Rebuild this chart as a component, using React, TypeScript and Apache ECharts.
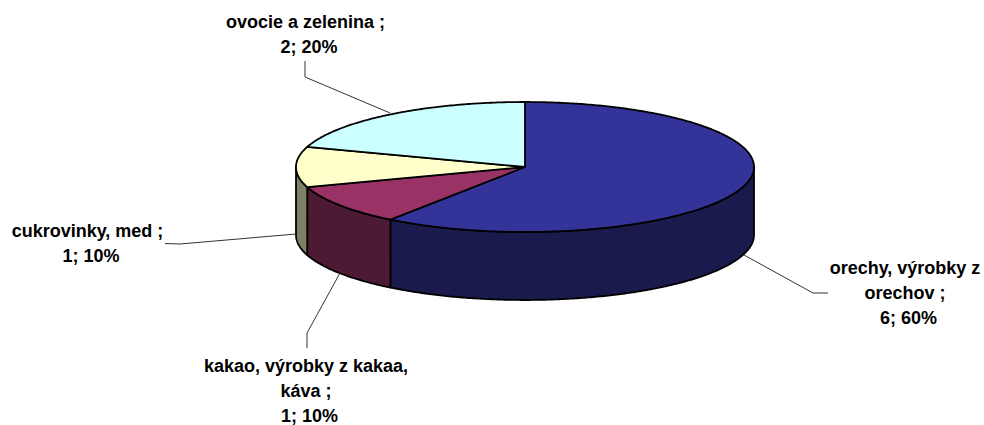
import React, { useEffect, useRef } from "react";
import * as echarts from "echarts";

const categories = [
  "orechy, výrobky z\norechov",
  "kakao, výrobky z kakaa,\nkáva",
  "cukrovinky, med",
  "ovocie a zelenina",
];
const values = [6, 1, 1, 2];
const topColors = ["#333399", "#993366", "#FFFFCC", "#CCFFFF"];
const sideColors = ["#1A1A4D", "#4D1A33", "#808066", "#668080"];

const CX = 525;
const CY = 167;
const RX = 229;
const RY = 65;
const DEPTH = 68;
const LINE_H = 25;
const VALUE_SHIFT = 3.5;
const TOTAL = values.reduce((a, b) => a + b, 0);
const starts = values.map((_, i) =>
  values.slice(0, i).reduce((a, b) => a + b, 0) / TOTAL * Math.PI * 2
);
const ends = values.map((v, i) => starts[i] + (v / TOTAL) * Math.PI * 2);

const labelPos = [
  { x: 905, y: 293 },
  { x: 306, y: 391 },
  { x: 87.5, y: 243.5 },
  { x: 305.5, y: 34.5 },
];
const leaders = [
  [[744, 255], [813, 293], [828, 293]],
  [[340, 273], [307, 333], [307, 348]],
  [[296, 234], [180, 244], [165, 243.5]],
  [[390, 113], [305, 77], [305, 61]],
];

const arc = (a: number, b: number, dy: number) => {
  const n = Math.max(2, Math.ceil((b - a) / 0.01));
  const pts: number[][] = [];
  for (let i = 0; i <= n; i++) {
    const t = a + ((b - a) * i) / n;
    pts.push([CX + RX * Math.sin(t), CY - RY * Math.cos(t) + dy]);
  }
  return pts;
};

const renderSide = (_: any, api: any) => {
  const i = api.value(0);
  const a = Math.max(starts[i], Math.PI / 2);
  const b = Math.min(ends[i], (Math.PI * 3) / 2);
  if (b <= a) return { type: "group", children: [] };
  return {
    type: "polygon",
    shape: { points: [...arc(a, b, 0), ...arc(a, b, DEPTH).reverse()] },
    style: { fill: sideColors[i], stroke: "#000", lineWidth: 1.8, lineJoin: "round" },
  };
};

const renderTop = (_: any, api: any) => {
  const i = api.value(0);
  return {
    type: "polygon",
    shape: { points: [[CX, CY], ...arc(starts[i], ends[i], 0)] },
    style: { fill: topColors[i], stroke: "#000", lineWidth: 1.8, lineJoin: "round" },
  };
};

const renderLabel = (_: any, api: any) => {
  const i = api.value(0);
  const pct = Math.round((values[i] / TOTAL) * 100);
  const lines = `${categories[i]} ;\n${values[i]}; ${pct}%`.split("\n");
  return {
    type: "group",
    children: [
      {
        type: "polyline",
        shape: { points: leaders[i] },
        style: { fill: "none", stroke: "#333", lineWidth: 1 },
      },
      ...lines.map((line, k) => ({
        type: "text",
        x: labelPos[i].x + (k === lines.length - 1 ? VALUE_SHIFT : 0),
        y: labelPos[i].y + LINE_H * (k - (lines.length - 1) / 2),
        style: {
          text: line,
          fill: "#000",
          fontFamily: "Liberation Sans",
          fontWeight: "bold",
          fontSize: 18,
          align: "center",
          verticalAlign: "middle",
        },
      })),
    ],
  };
};

export default function App() {
  const ref = useRef<HTMLDivElement>(null);
  useEffect(() => {
    const chart = echarts.init(ref.current!, null, { renderer: "svg" });
    const data = values.map((_, i) => [i]);
    const base = { type: "custom", coordinateSystem: "none", data, silent: true, animation: false };
    chart.setOption({
      animation: false,
      backgroundColor: "#fff",
      series: [
        { ...base, name: "sides", z: 1, renderItem: renderSide },
        { ...base, name: "tops", z: 2, renderItem: renderTop },
        { ...base, name: "labels", z: 3, renderItem: renderLabel },
      ],
    });
    return () => chart.dispose();
  }, []);
  return (
    <div
      ref={ref}
      style={{ position: "absolute", left: 0, top: 0, width: 984, height: 425 }}
    />
  );
}
